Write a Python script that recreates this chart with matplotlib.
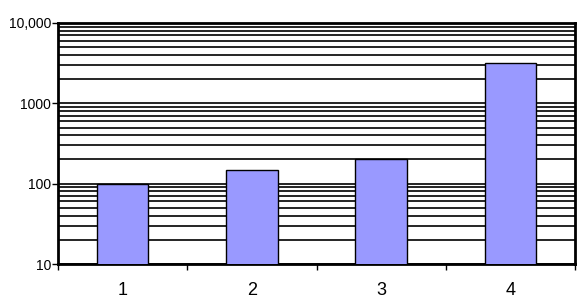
import matplotlib
matplotlib.use("Agg")
import matplotlib.pyplot as plt
from matplotlib.ticker import FixedLocator, NullFormatter
import numpy as np

categories = ["1", "2", "3", "4"]
values = [100, 150, 205, 3200]
ytick_vals = [10, 100, 1000, 10000]
ytick_labels = ["10", "100", "1000", "10,000"]

plt.rcParams['font.family'] = ['Liberation Sans', 'DejaVu Sans']

fig = plt.figure(figsize=(5.85, 3.06), dpi=100)
ax = fig.add_axes([58/585, 42/306, 517/585, 241/306])

x = np.arange(len(categories))
ax.bar(x, values, width=0.4, color="#9999FF", edgecolor="black", linewidth=1.0, zorder=3)
ax.set_yscale("log")
ax.set_ylim(10, 10000)
ax.set_xlim(-0.5, len(categories) - 0.5)

ax.yaxis.set_major_locator(FixedLocator(ytick_vals))
ax.set_yticklabels(ytick_labels)
minor = [m * 10**e for e in range(1, 4) for m in range(2, 10)]
ax.yaxis.set_minor_locator(FixedLocator(minor))
ax.yaxis.set_minor_formatter(NullFormatter())
ax.grid(True, which="both", axis="y", color="black", linewidth=1.2, zorder=1)
ax.set_axisbelow(True)
ax.tick_params(axis="y", which="major", length=4, width=1, direction="out", pad=1, labelsize=10)
ax.tick_params(axis="y", which="minor", length=0)

ax.set_xticks(x)
ax.set_xticklabels(categories)
ax.xaxis.set_minor_locator(FixedLocator(np.arange(-0.5, len(categories), 1.0)))
ax.tick_params(axis="x", which="major", length=0, pad=13, labelsize=13)
ax.tick_params(axis="x", which="minor", length=4, width=1, direction="out")

for s in ax.spines.values():
    s.set_linewidth(2)
    s.set_color("black")

fig.savefig("out.png", dpi=100)
